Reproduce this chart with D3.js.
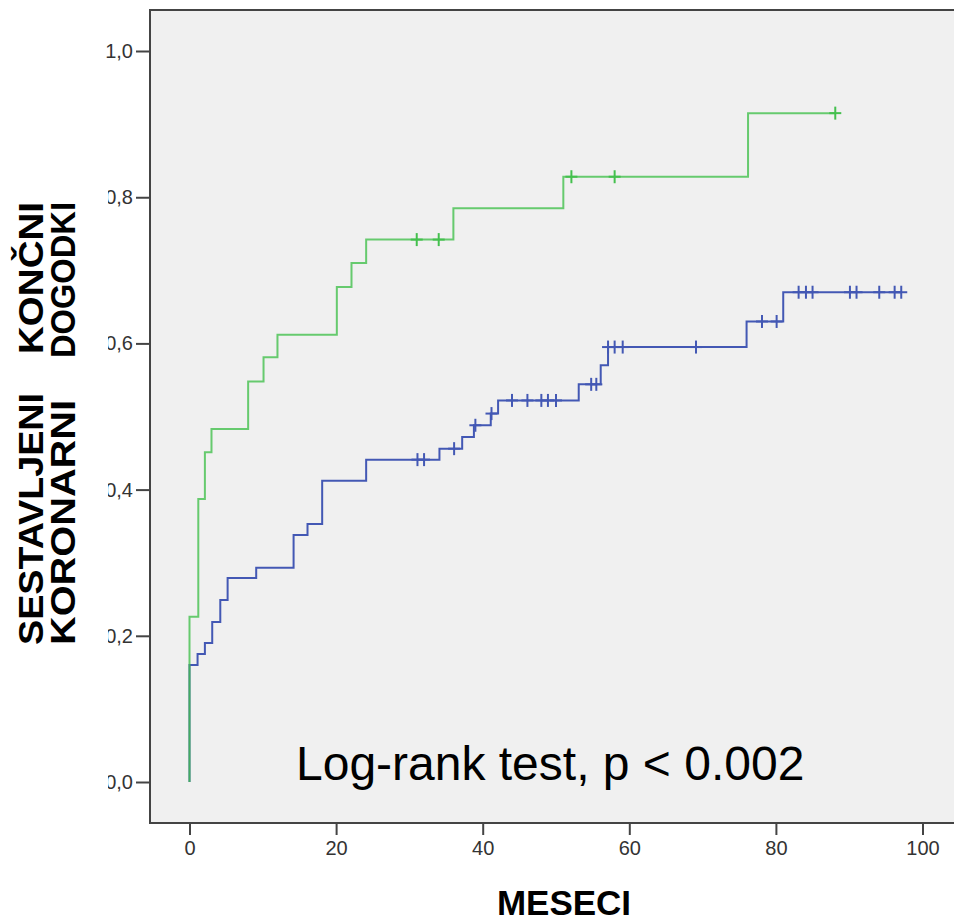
<!DOCTYPE html>
<html>
<head>
<meta charset="utf-8">
<script src="https://cdn.jsdelivr.net/npm/d3@7"></script>
<style>
  body { margin: 0; background: #fff; }
  text { font-family: "Liberation Sans", Arial, sans-serif; }
</style>
</head>
<body>
<div id="km"></div>
<script>
(function() {
  // green group: step times (months) and cumulative event values
  var greenTimes  = [0, 0, 1.2, 2.1, 3.0, 8.0, 10.1, 12.0, 20.1, 22.1, 24.1, 36.0, 51.0, 76.2];
  var greenValues = [0, 0.226, 0.387, 0.451, 0.483, 0.548, 0.581, 0.612, 0.677, 0.710, 0.742, 0.785, 0.828, 0.915];
  var greenCensored = [31.0, 34.0, 52.1, 58.0, 88.1];

  // blue group
  var blueTimes  = [0, 0, 1.1, 2.1, 3.1, 4.2, 5.2, 9.1, 14.2, 16.1, 18.1, 24.1, 34.1, 37.2, 38.8, 41.1, 42.1, 53.1, 56.1, 57.1, 76.0, 81.0];
  var blueValues = [0, 0.160, 0.175, 0.190, 0.219, 0.249, 0.279, 0.293, 0.338, 0.353, 0.412, 0.441, 0.456, 0.472, 0.488, 0.504, 0.522, 0.544, 0.570, 0.595, 0.630, 0.670];
  var blueCensored = [31.1, 32.0, 36.1, 39.0, 41.2, 44.0, 46.1, 48.0, 48.9, 50.0, 54.8, 55.5, 57.1, 58.0, 59.1, 69.1, 78.1, 80.1, 83.1, 84.1, 85.0, 90.1, 91.0, 94.1, 96.2, 97.1];

  var xTicks = [0, 20, 40, 60, 80, 100];
  var yTicks = [0, 0.2, 0.4, 0.6, 0.8, 1.0];

  var width = 954;
  var height = 922;

  var svg = d3.select("#km")
    .append("svg")
    .attr("width", width)
    .attr("height", height);

  var x = d3.scaleLinear().domain([0, 100]).range([189.5, 922.5]);
  var y = d3.scaleLinear().domain([0, 1]).range([782, 51]);

  // plot panel
  svg.append("rect")
    .attr("x", 150).attr("y", 10)
    .attr("width", 820).attr("height", 813)
    .attr("fill", "#f0f0f0")
    .attr("stroke", "#444")
    .attr("stroke-width", 2);

  // axes
  var xAxis = d3.axisBottom(x)
    .tickValues(xTicks)
    .tickSize(12)
    .tickPadding(6)
    .tickFormat(d3.format("d"));
  var gx = svg.append("g")
    .attr("transform", "translate(0,823)")
    .call(xAxis);
  gx.select(".domain").remove();

  // the title box covers the left part of the lower y labels in the original
  var clip = svg.append("clipPath").attr("id", "ylab");
  clip.append("rect").attr("x", -60).attr("y", 0).attr("width", 76).attr("height", 185);
  clip.append("rect").attr("x", -42).attr("y", 185).attr("width", 58).attr("height", 700);

  var yAxis = d3.axisLeft(y)
    .tickValues(yTicks)
    .tickSize(14)
    .tickPadding(3)
    .tickFormat(function(d) { return d3.format(".1f")(d).replace(".", ","); });
  var gy = svg.append("g")
    .attr("transform", "translate(150,0)")
    .attr("clip-path", "url(#ylab)")
    .call(yAxis);
  gy.select(".domain").remove();

  svg.selectAll(".tick line").attr("stroke", "#444").attr("stroke-width", 2);
  svg.selectAll(".tick text")
    .attr("fill", "#333")
    .style("font-size", "20px")
    .style("font-family", "'Liberation Sans', Arial, sans-serif");

  // curves
  var stepLine = d3.line()
    .x(function(d) { return x(d[0]); })
    .y(function(d) { return y(d[1]); })
    .curve(d3.curveStepAfter);

  function drawGroup(times, values, censored, color, opacity) {
    var pts = times.map(function(t, i) { return [t, values[i]]; });
    var last = d3.max(censored);
    pts.push([last, values[values.length - 1]]);

    svg.append("path")
      .attr("d", stepLine(pts))
      .attr("fill", "none")
      .attr("stroke", color)
      .attr("stroke-opacity", opacity)
      .attr("stroke-width", 2);

    // value at a censor time from the step function
    function valueAt(t) {
      var v = 0;
      times.forEach(function(tt, i) { if (tt <= t) v = values[i]; });
      return v;
    }

    var marks = svg.append("g");
    censored.forEach(function(t) {
      var cx = x(t), cy = y(valueAt(t));
      marks.append("line")
        .attr("x1", cx).attr("x2", cx)
        .attr("y1", cy - 6.5).attr("y2", cy + 6.5)
        .attr("stroke", color).attr("stroke-width", 2);
      marks.append("line")
        .attr("x1", cx - 6).attr("x2", cx + 6)
        .attr("y1", cy).attr("y2", cy)
        .attr("stroke", color).attr("stroke-width", 2);
    });
  }

  drawGroup(blueTimes, blueValues, blueCensored, "#4358b4", 1);
  drawGroup(greenTimes, greenValues, greenCensored, "#44c04e", 0.8);

  // annotation
  svg.append("text")
    .attr("x", 296).attr("y", 780)
    .attr("fill", "#000")
    .style("font-size", "48px")
    .text("Log-rank test, p < 0.002");

  // axis titles
  svg.append("text")
    .attr("x", 564).attr("y", 915)
    .attr("text-anchor", "middle")
    .style("font-size", "35px")
    .style("font-weight", "bold")
    .text("MESECI");

  var yTitle = [
    { x: 43, first: "SESTAVLJENI", firstLen: 252, second: "KONČNI", secondLen: 152 },
    { x: 75, first: "KORONARNI", firstLen: 245, second: "DOGODKI", secondLen: 156 }
  ];
  yTitle.forEach(function(l) {
    svg.append("text")
      .attr("transform", "translate(" + l.x + ",645) rotate(-90)")
      .attr("text-anchor", "start")
      .attr("textLength", l.firstLen)
      .attr("lengthAdjust", "spacingAndGlyphs")
      .style("font-size", "35px")
      .style("font-weight", "bold")
      .text(l.first);
    svg.append("text")
      .attr("transform", "translate(" + l.x + "," + (202 + l.secondLen) + ") rotate(-90)")
      .attr("text-anchor", "start")
      .attr("textLength", l.secondLen)
      .attr("lengthAdjust", "spacingAndGlyphs")
      .style("font-size", "35px")
      .style("font-weight", "bold")
      .text(l.second);
  });
})();
</script>
</body>
</html>
